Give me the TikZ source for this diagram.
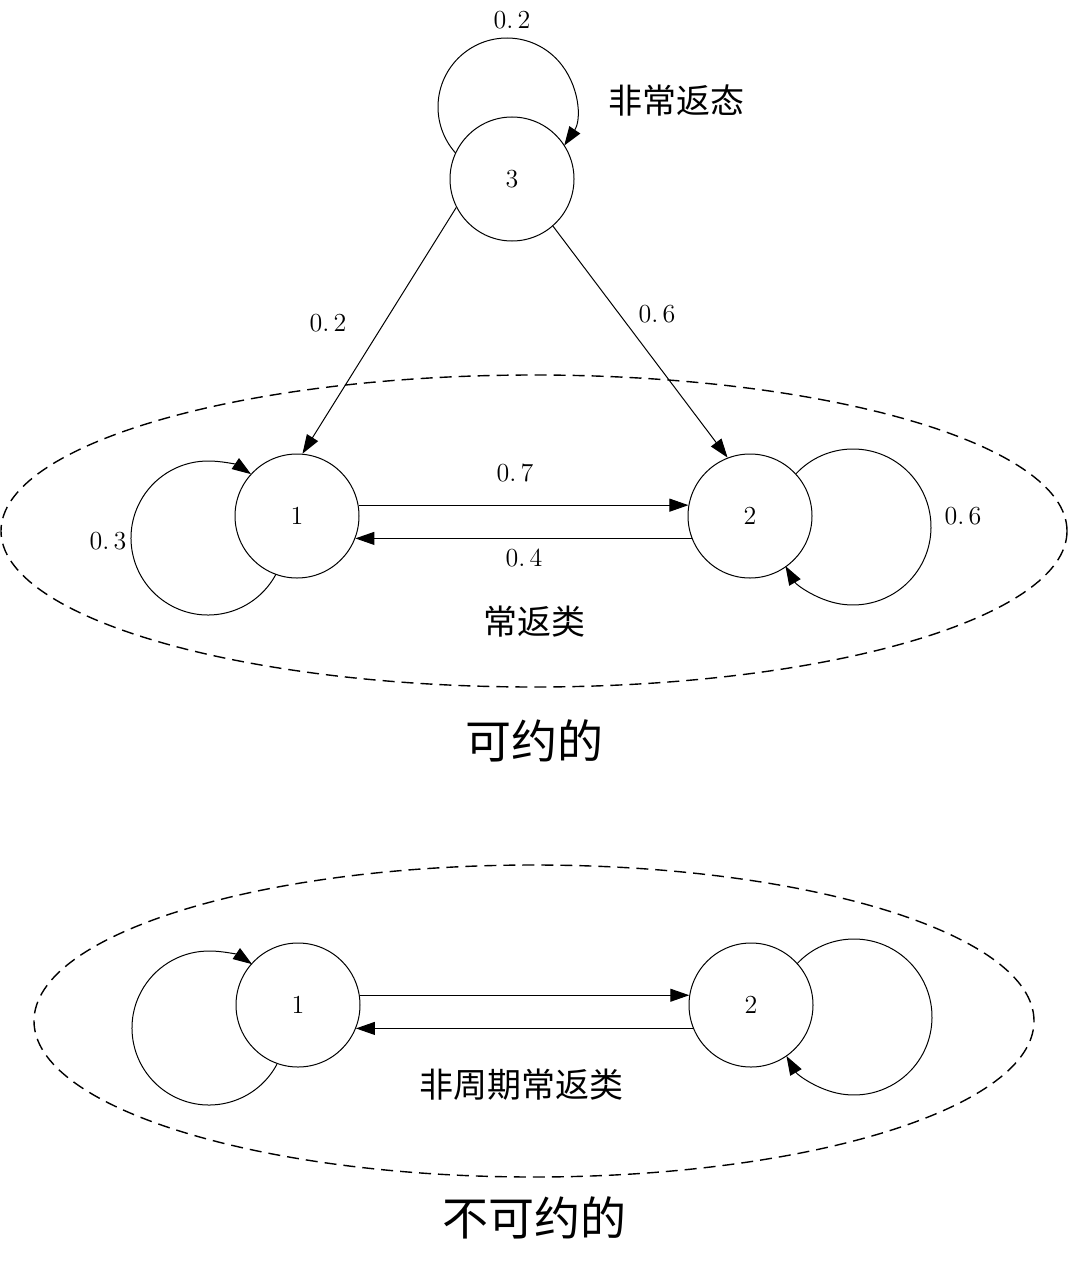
\documentclass[tikz,border=0pt]{standalone}
\usepackage{fontspec}
\newfontfamily\cjk{Noto Sans CJK SC}
\usetikzlibrary{arrows.meta,calc,positioning}

\begin{document}
\begin{tikzpicture}[x=0.5pt,y=0.5pt,
    state/.style={draw,circle,minimum size=62pt,inner sep=0pt,line width=0.5pt,font=\fontsize{13}{15}\selectfont},
    trans/.style={line width=0.5pt,-{Triangle[length=9.5pt,width=6.5pt]}},
    prob/.style={font=\fontsize{13}{15}\selectfont},
    cls/.style={font=\cjk\fontsize{17}{20}\selectfont},
    title/.style={font=\cjk\fontsize{23}{27}\selectfont},
    region/.style={draw,dash pattern=on 6pt off 3.5pt,line width=0.7pt}]
    \useasboundingbox (0,0) rectangle (1068,-1268);
    % loop radii
    \pgfmathsetmacro{\rSmall}{69}
    \pgfmathsetmacro{\rLeft}{77}
    \pgfmathsetmacro{\rRight}{78}

    % reducible chain
    \draw[region] (534,-531) ellipse[x radius=533,y radius=156];
    \node[state] (a3) at (512,-179) {3};
    \node[state] (a1) at (297,-516) {1};
    \node[state] (a2) at (750,-516) {2};
    \draw[trans] ($(a3)+(-5,72)$) ++(222:\rSmall)
      arc[start angle=222,end angle=-34,radius=\rSmall];
    \draw[trans] ($(a1)+(-89,-22)$) ++(-28:\rLeft)
      arc[start angle=-28,end angle=-304,radius=\rLeft];
    \draw[trans] ($(a2)+(103,-11)$) ++(137:\rRight)
      arc[start angle=137,end angle=-150,radius=\rRight];
    \draw[trans] (a3.207) -- (a1.85);
    \draw[trans] (a3.311) -- (a2.111);
    \draw[trans] (a1.10) -- (a2.170);
    \draw[trans] (a2.201) -- (a1.339);
    \node[prob] (p33) at (512,-20) {0.\,2};
    \node[prob] (p11) at (108,-541) {0.\,3};
    \node[prob] (p22) at (963,-516) {0.\,6};
    \node[prob] (p31) at (328,-323) {0.\,2};
    \node[prob] (p32) at (657,-314) {0.\,6};
    \node[prob] (p12) at (515,-473) {0.\,7};
    \node[prob] (p21) at (524,-558) {0.\,4};
    \node[cls] (transient) at (676,-101) {非常返态};
    \node[cls] (recurrent) at (534,-622) {常返类};
    \node[title] (reducible) at (534,-741) {可约的};

    % irreducible chain
    \draw[region] (534,-1021) ellipse[x radius=500,y radius=156];
    \node[state] (b1) at (298,-1005) {1};
    \node[state] (b2) at (751,-1005) {2};
    \draw[trans] ($(b1)+(-89,-23)$) ++(-28:\rLeft)
      arc[start angle=-28,end angle=-304,radius=\rLeft];
    \draw[trans] ($(b2)+(103,-12)$) ++(137:\rRight)
      arc[start angle=137,end angle=-150,radius=\rRight];
    \draw[trans] (b1.9) -- (b2.171);
    \draw[trans] (b2.202) -- (b1.338);
    \node[cls] (aperiodic) at (521,-1085) {非周期常返类};
    \node[title] (irreducible) at (534,-1218) {不可约的};
\end{tikzpicture}
\end{document}
